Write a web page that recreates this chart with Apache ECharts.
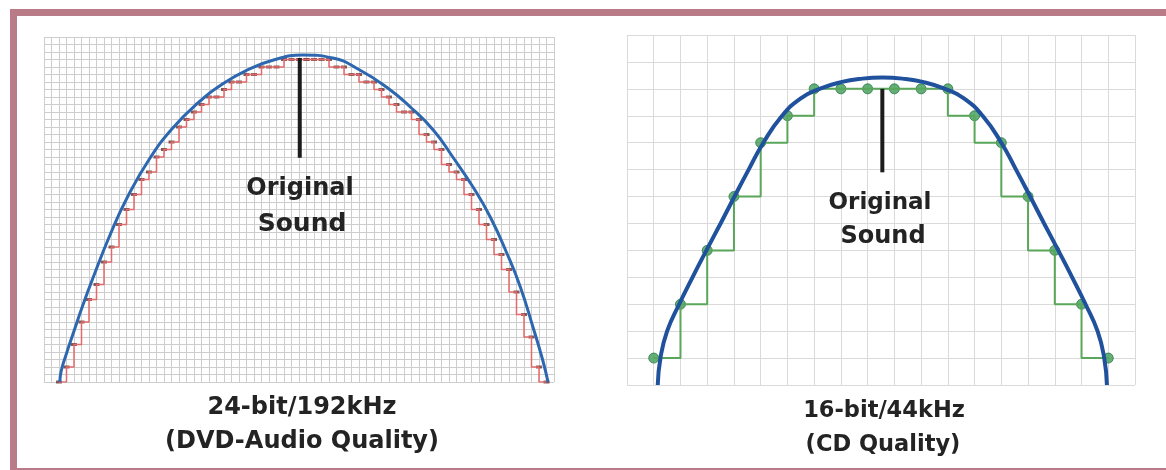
<!DOCTYPE html>
<html>
<head>
<meta charset="utf-8">
<script src="https://cdn.jsdelivr.net/npm/echarts@6/dist/echarts.min.js"></script>
<style>
  html, body { margin: 0; padding: 0; background: #fff; }
  #chart { width: 1166px; height: 470px; }
</style>
</head>
<body>
<div id="chart"></div>
<script>
// --- 24-bit/192kHz panel (fine grid: 68 x 46 cells) ---
// the original sound wave
const hiResCurveX = [2.1, 2.3, 2.9, 3.9, 5.2, 6.5, 8.8, 11.1, 14.1, 17.2, 20.4, 23.9, 27.1, 30.5, 34.5, 38.5, 42.1, 45.7, 48.8, 51.9, 54.5, 57.2, 59.5, 61.7, 63.5, 65.2, 66.5, 67.2]
const hiResCurveY = [0, 1.5, 3.5, 6.5, 10.3, 13.8, 19.6, 24.6, 29.8, 33.9, 37.1, 39.8, 41.6, 42.9, 43.6, 43.2, 41.6, 39.3, 36.7, 33.6, 30, 26, 22, 17.2, 12.7, 7.3, 2.9, 0]
// quantised samples, one per column
const hiResRiseStart = 2   // x of first rising sample
const hiResRise = [0, 2, 5, 8, 11, 13, 16, 18, 21, 23, 25, 27, 28, 30, 31, 32, 34, 35, 36, 37, 38, 38, 39, 40, 40, 41, 41, 42, 42, 42, 43, 43, 43, 43]
const hiResFallStart = 35  // x of first falling sample
const hiResFall = [43, 43, 43, 43, 42, 42, 41, 41, 40, 40, 39, 38, 37, 36, 36, 35, 33, 32, 31, 29, 28, 27, 25, 23, 21, 19, 17, 15, 12, 9, 6, 2, 0]
const hiResPointer = { x: 34.1, from: 43.2, to: 29.9 }

// --- 16-bit/44kHz panel (coarse grid: 19 x 13 cells) ---
const cdCurveX = [1.15, 1.25, 1.5, 1.95, 2.45, 2.97, 3.5, 4.02, 4.55, 5.1, 5.8, 6.5, 7.2, 8.0, 8.8, 9.55, 10.3, 11.1, 11.9, 12.6, 13.3, 14.0, 14.55, 15.08, 15.6, 16.13, 16.65, 17.15, 17.6, 17.85, 17.95]
const cdCurveY = [0, 1.0, 2.0, 3.0, 4.0, 5.0, 6.0, 7.0, 8.0, 9.0, 10.0, 10.65, 11.0, 11.25, 11.38, 11.42, 11.38, 11.25, 11.0, 10.65, 10.0, 9.0, 8.0, 7.0, 6.0, 5.0, 4.0, 3.0, 2.0, 1.0, 0]
const cdSampleStart = 1
const cdSamples = [1, 3, 5, 7, 9, 10, 11, 11, 11, 11, 11, 11, 10, 9, 7, 5, 3, 1]
const cdSplit = 10  // samples rise up to here, then fall
const cdPointer = { x: 9.55, from: 11.0, to: 7.9 }

const captions = {
  hiRes: ['24-bit/192kHz', '(DVD-Audio Quality)'],
  cd: ['16-bit/44kHz', '(CD Quality)'],
  pointer: ['Original', 'Sound']
}

const zip = (xs, ys) => xs.map((x, i) => [x, ys[i]])
const fromStart = (start, vals) => vals.map((v, i) => [start + i, v])

const hiResRisePts = fromStart(hiResRiseStart, hiResRise)
const hiResFallPts = fromStart(hiResFallStart, hiResFall)
const cdPts = fromStart(cdSampleStart, cdSamples)
const cdRisePts = cdPts.filter(p => p[0] <= cdSplit)
const cdFallPts = cdPts.filter(p => p[0] >= cdSplit)

const chart = echarts.init(document.getElementById('chart'))

// plain grid axis, only split lines shown
const gridAxis = (max, color, idx) => ({
  type: 'value',
  gridIndex: idx,
  min: 0,
  max: max,
  interval: 1,
  axisLine: { show: false },
  axisTick: { show: false },
  axisLabel: { show: false },
  splitLine: { show: true, showMinLine: true, showMaxLine: true, lineStyle: { color: color, width: 1 } }
})

const txt = (x, y, text, size) => ({
  type: 'text',
  x: x,
  y: y,
  z: 100,
  style: {
    text: text,
    fill: '#232323',
    font: 'bold ' + size + 'px "DejaVu Sans"',
    textAlign: 'center',
    textVerticalAlign: 'middle'
  }
})

const options = {
  animation: false,
  backgroundColor: '#fff',
  grid: [
    { left: 44, top: 37, width: 510, height: 345 },
    { left: 627, top: 35, width: 508, height: 350 }
  ],
  xAxis: [gridAxis(68, '#cdcdcd', 0), gridAxis(19, '#dadada', 1)],
  yAxis: [gridAxis(46, '#cdcdcd', 0), gridAxis(13, '#dadada', 1)],
  series: [
    // left: red staircase
    {
      type: 'line', xAxisIndex: 0, yAxisIndex: 0, step: 'end', showSymbol: false,
      data: hiResRisePts, lineStyle: { color: '#e46a6a', width: 1.5 }
    },
    {
      type: 'line', xAxisIndex: 0, yAxisIndex: 0, step: 'start', showSymbol: false,
      data: hiResFallPts, lineStyle: { color: '#e46a6a', width: 1.5 }
    },
    // left: original wave
    {
      type: 'line', xAxisIndex: 0, yAxisIndex: 0, smooth: 0.5, showSymbol: false,
      data: zip(hiResCurveX, hiResCurveY), lineStyle: { color: '#2c67b0', width: 3 }
    },
    // left: sample markers
    {
      type: 'scatter', xAxisIndex: 0, yAxisIndex: 0, symbol: 'rect', symbolSize: [6, 3],
      data: hiResRisePts.concat(hiResFallPts), itemStyle: { color: '#6e3434' }
    },
    {
      type: 'line', xAxisIndex: 0, yAxisIndex: 0, showSymbol: false,
      data: [[hiResPointer.x, hiResPointer.from], [hiResPointer.x, hiResPointer.to]],
      lineStyle: { color: '#1c1c1c', width: 4 }
    },
    // right: green staircase
    {
      type: 'line', xAxisIndex: 1, yAxisIndex: 1, step: 'end', showSymbol: false,
      data: cdRisePts, lineStyle: { color: '#5aa65a', width: 2 }
    },
    {
      type: 'line', xAxisIndex: 1, yAxisIndex: 1, step: 'start', showSymbol: false,
      data: cdFallPts, lineStyle: { color: '#5aa65a', width: 2 }
    },
    // right: original wave
    {
      type: 'line', xAxisIndex: 1, yAxisIndex: 1, smooth: 0.5, showSymbol: false,
      data: zip(cdCurveX, cdCurveY), lineStyle: { color: '#1f519c', width: 4 }
    },
    // right: sample dots
    {
      type: 'scatter', xAxisIndex: 1, yAxisIndex: 1, symbolSize: 10,
      data: cdPts, itemStyle: { color: '#3f9c58', borderColor: '#2a7842', borderWidth: 1 }
    },
    {
      type: 'line', xAxisIndex: 1, yAxisIndex: 1, showSymbol: false,
      data: [[cdPointer.x, cdPointer.from], [cdPointer.x, cdPointer.to]],
      lineStyle: { color: '#1c1c1c', width: 4 }
    }
  ],
  graphic: [
    // frame (bottom and right edges fall outside the picture)
    {
      type: 'rect', z: 50,
      shape: { x: 13.5, y: 12.5, width: 1200, height: 459 },
      style: { fill: null, stroke: '#b97b87', lineWidth: 7 }
    },
    txt(300, 189, captions.pointer[0], 24),
    txt(302, 224, captions.pointer[1], 25),
    txt(880, 203, captions.pointer[0], 23),
    txt(883, 237, captions.pointer[1], 24),
    txt(302, 408, captions.hiRes[0], 24),
    txt(302, 442, captions.hiRes[1], 24),
    txt(884, 411, captions.cd[0], 22.5),
    txt(883, 445, captions.cd[1], 22.5)
  ]
}

chart.setOption(options)
</script>
</body>
</html>
